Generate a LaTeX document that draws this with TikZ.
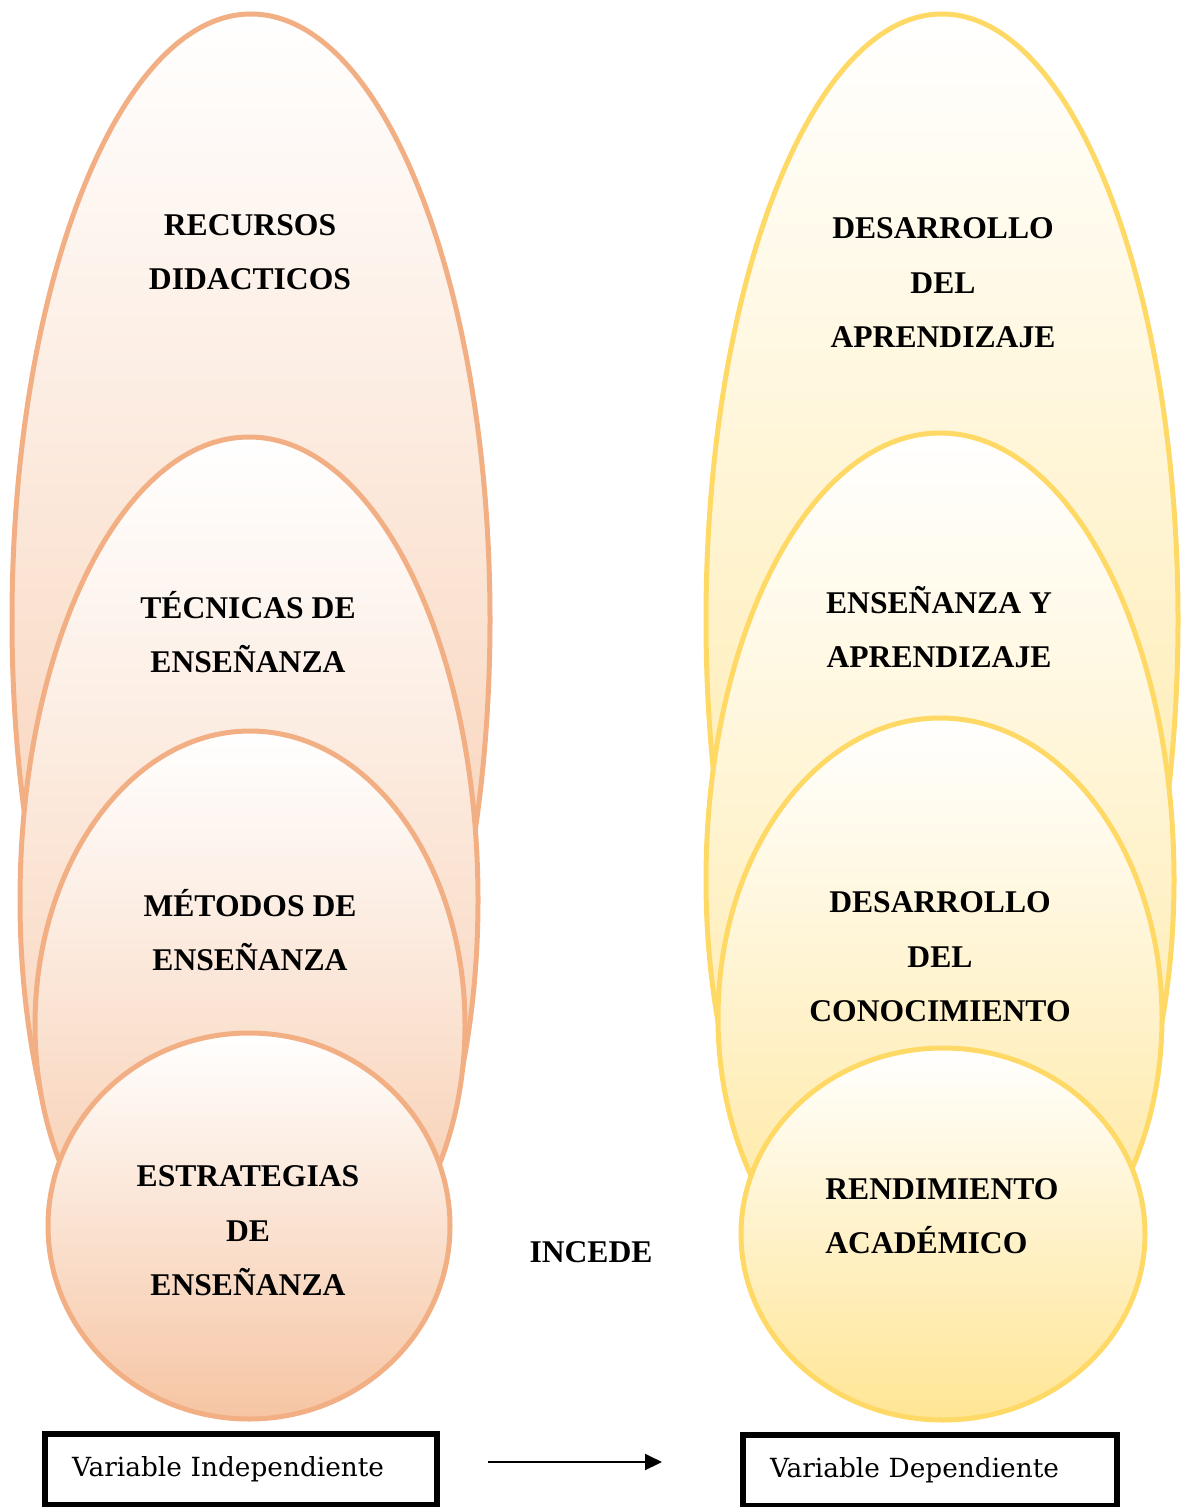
\documentclass[tikz,border=0pt]{standalone}
\usepackage{fontspec}
\setmainfont{Liberation Serif}
\newfontfamily\cajafont{DejaVu Serif}
\usetikzlibrary{shapes.geometric,arrows.meta}

\definecolor{bordenaranja}{HTML}{F2AF84}
\definecolor{fondonaranja}{HTML}{F6C5A3}
\definecolor{bordeamarillo}{HTML}{FFD966}
\definecolor{fondoamarillo}{HTML}{FFE594}

\begin{document}
\begin{tikzpicture}[x=0.02cm,y=-0.02cm]

        \def \px {0.02cm}

        \tikzset{
            ovalo/.style={ellipse,inner sep=0pt,line width=5*\px,top color=white},
            ovizq/.style={ovalo,draw=bordenaranja,bottom color=fondonaranja},
            ovder/.style={ovalo,draw=bordeamarillo,bottom color=fondoamarillo},
            texto/.style={font=\fontsize{18}{31}\selectfont\bfseries,align=center,inner sep=0pt},
            caja/.style={draw,line width=6*\px,minimum height=71*\px,inner xsep=27*\px,
                align=left,font=\cajafont\fontsize{15}{18}\selectfont},
            flecha/.style={-{Triangle[length=17*\px,width=16*\px]},line width=2*\px}
        }

        \useasboundingbox (0,0) rectangle (1180,1507);

        % Draw ellipses
        \foreach \n/\x/\y/\rx/\ry in {1/251/620/239/606,2/249/900/229/463,
                                      3/250/1025/215/294,4/249/1226/201/193} {
            \node (i-\n) at (\x,\y) [ovizq,minimum width=2*\rx*\px,minimum height=2*\ry*\px] {};
        }
        \foreach \n/\x/\y/\rx/\ry in {1/942/620/236/606,2/940/880/234/447,
                                      3/940/1018/222/300,4/943/1234/202/186} {
            \node (d-\n) at (\x,\y) [ovder,minimum width=2*\rx*\px,minimum height=2*\ry*\px] {};
        }

        % Draw texts
        \node (t-i1) at (250,252) [texto] {RECURSOS\\DIDACTICOS};
        \node (t-i2) at (248,632) [texto] {TÉCNICAS DE\\ENSEÑANZA};
        \node (t-i3) at (250,930) [texto] {MÉTODOS DE\\ENSEÑANZA};
        \node (t-i4) at (248,1231) [texto] {ESTRATEGIAS\\DE\\ENSEÑANZA};
        \node (t-d1) at (943,283) [texto] {DESARROLLO\\DEL\\APRENDIZAJE};
        \node (t-d2) at (939,627) [texto] {ENSEÑANZA Y\\APRENDIZAJE};
        \node (t-d3) at (940,957) [texto] {DESARROLLO\\DEL\\CONOCIMIENTO};
        \node (t-d4) at (825,1216) [texto,anchor=west,align=left] {RENDIMIENTO\\ACADÉMICO};
        \node (incede) at (591,1252) [texto] {INCEDE};

        % Draw variables
        \node (vi) at (241,1469) [caja,text width=338*\px] {Variable Independiente};
        \node (vd) at (930,1470) [caja,text width=320*\px] {Variable Dependiente};
        \coordinate (f-a) at (488,1462);
        \coordinate (f-b) at (662,1462);
        \draw[flecha] (f-a) -- (f-b);

    \end{tikzpicture}
\end{document}
